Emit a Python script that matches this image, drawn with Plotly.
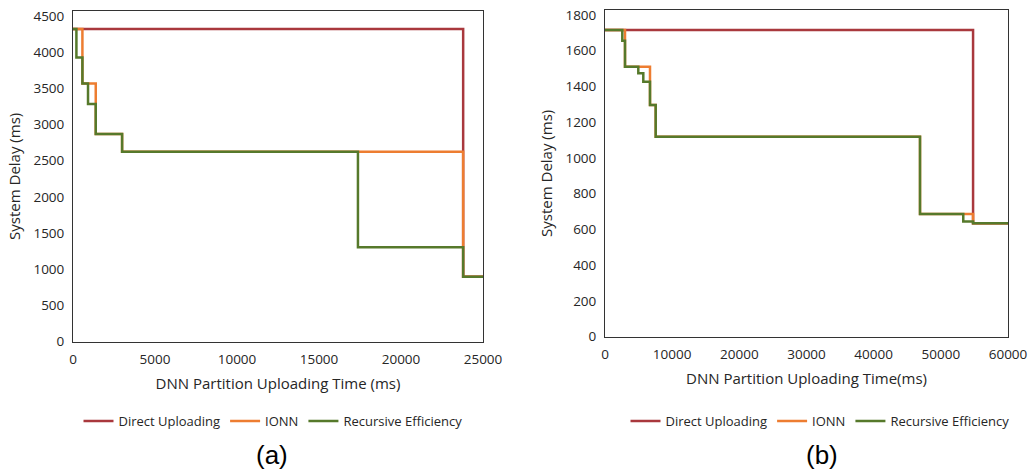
import plotly.graph_objects as go

# ---- data (a) ----
a_direct_x = [0, 23790, 25000]
a_direct_y = [4319, 898, 898]
a_ionn_x = [0, 574, 1387, 2994, 23790, 25000]
a_ionn_y = [4319, 3569, 2869, 2624, 898, 898]
a_rec_x = [0, 208, 574, 916, 1387, 2994, 17375, 23790, 25000]
a_rec_y = [4319, 3928, 3569, 3283, 2869, 2624, 1304, 898, 898]

# ---- data (b) ----
b_direct_x = [0, 54800, 60000]
b_direct_y = [1716, 635, 635]
b_ionn_x = [0, 2978, 6700, 7548, 46900, 54800, 60000]
b_ionn_y = [1716, 1511, 1297, 1119, 687, 635, 635]
b_rec_x = [0, 2576, 2978, 4958, 5702, 6700, 7548, 46900, 53340, 54800, 60000]
b_rec_y = [1716, 1656, 1511, 1474, 1427, 1297, 1119, 687, 644, 635, 635]

series_names = ["Direct Uploading", "IONN", "Recursive Efficiency"]
colors = ["#a9383d", "#ed7d31", "#56792b"]

a_xticks = [0, 5000, 10000, 15000, 20000, 25000]
a_yticks = [0, 500, 1000, 1500, 2000, 2500, 3000, 3500, 4000, 4500]
b_xticks = [0, 10000, 20000, 30000, 40000, 50000, 60000]
b_yticks = [0, 200, 400, 600, 800, 1000, 1200, 1400, 1600, 1800]

FONT = "Open Sans"
fig = go.Figure()

for name, col, xs, ys in zip(series_names, colors,
                             [a_direct_x, a_ionn_x, a_rec_x],
                             [a_direct_y, a_ionn_y, a_rec_y]):
    fig.add_trace(go.Scatter(x=xs, y=ys, name=name, mode="lines",
                             line=dict(color=col, width=2.5, shape="hv"),
                             xaxis="x", yaxis="y", legend="legend"))
for name, col, xs, ys in zip(series_names, colors,
                             [b_direct_x, b_ionn_x, b_rec_x],
                             [b_direct_y, b_ionn_y, b_rec_y]):
    fig.add_trace(go.Scatter(x=xs, y=ys, name=name, mode="lines",
                             line=dict(color=col, width=2.5, shape="hv"),
                             xaxis="x2", yaxis="y2", legend="legend2"))

W, H = 1034, 471
tickfont = dict(family=FONT, size=13.5, color="#262626")
titlefont = dict(family=FONT, size=15, color="#262626")
axis_common = dict(showgrid=False, zeroline=False, showline=True, mirror=True,
                   linecolor="#333333", linewidth=1, ticks="", tickfont=tickfont,
                   automargin=False, ticklabelstandoff=5)


def lab(vals):
    return [str(v) for v in vals]


fig.update_layout(
    width=W, height=H,
    margin=dict(l=0, r=0, t=0, b=0),
    paper_bgcolor="white", plot_bgcolor="white",
    xaxis=dict(domain=[73 / W, 483 / W], range=[0, 25000], tickvals=a_xticks, ticktext=lab(a_xticks),
               title=dict(text="DNN Partition Uploading Time (ms)", font=titlefont, standoff=11),
               anchor="y", **axis_common),
    yaxis=dict(domain=[1 - 341.7 / H, 1 - 11 / H], range=[0, 4569], tickvals=a_yticks, ticktext=lab(a_yticks),
               title=dict(text="System Delay (ms)", font=titlefont, standoff=9),
               anchor="x", **axis_common),
    xaxis2=dict(domain=[605 / W, 1008 / W], range=[0, 60000], tickvals=b_xticks, ticktext=lab(b_xticks),
                title=dict(text="DNN Partition Uploading Time(ms)", font=titlefont, standoff=11),
                anchor="y2", **axis_common),
    yaxis2=dict(domain=[1 - 336.7 / H, 1 - 10 / H], range=[0, 1828], tickvals=b_yticks, ticktext=lab(b_yticks),
                title=dict(text="System Delay (ms)", font=titlefont, standoff=9),
                anchor="x2", **axis_common),
    legend=dict(orientation="h", x=273 / W, xanchor="center", y=1 - 421 / H, yanchor="middle",
                font=dict(family=FONT, size=13, color="#262626"), bgcolor="rgba(0,0,0,0)"),
    legend2=dict(orientation="h", x=820 / W, xanchor="center", y=1 - 421 / H, yanchor="middle",
                 font=dict(family=FONT, size=13, color="#262626"), bgcolor="rgba(0,0,0,0)"),
    annotations=[
        dict(text="(a)", x=272 / W, y=1 - 455 / H, xref="paper", yref="paper",
             showarrow=False, font=dict(family="Liberation Sans", size=26, color="black"),
             xanchor="center", yanchor="middle"),
        dict(text="(b)", x=822 / W, y=1 - 455 / H, xref="paper", yref="paper",
             showarrow=False, font=dict(family="Liberation Sans", size=26, color="black"),
             xanchor="center", yanchor="middle"),
    ],
)

fig.write_html("out.html", config={"displayModeBar": False},
               post_script="document.body.style.margin='0';document.body.style.overflow='hidden';")
